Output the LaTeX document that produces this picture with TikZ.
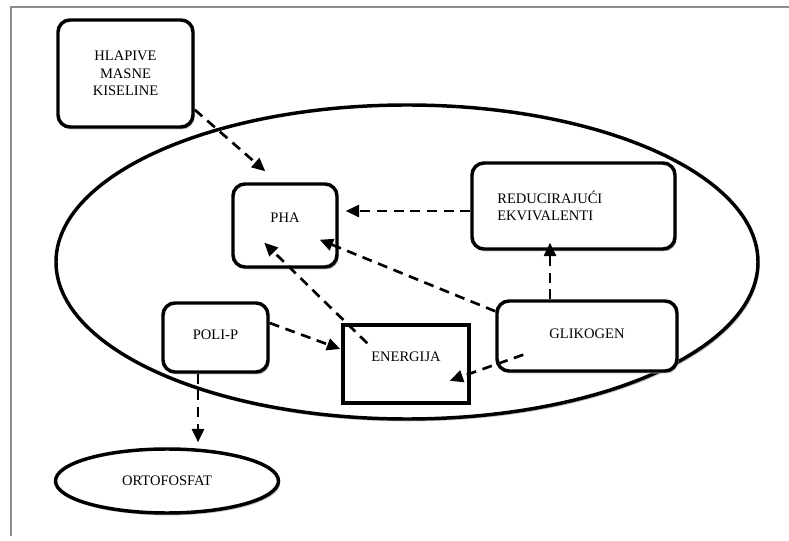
\documentclass[tikz,border=0pt]{standalone}
\usepackage{fontspec}
\setmainfont{Liberation Serif}
\usetikzlibrary{shapes.geometric,arrows.meta,calc,shadows}
\begin{document}
\begin{tikzpicture}[x=0.75pt,y=-0.75pt,
    every node/.style={font=\fontsize{10.9}{13.2}\selectfont},
    box/.style={shape=rectangle,draw=black,line width=2.6pt,fill=white,inner sep=0pt,
      drop shadow={shadow xshift=1.2pt,shadow yshift=-1.8pt,fill=black!25,opacity=1}},
    flow/.style={line width=2pt,dash pattern=on 7.5pt off 5pt,-{Triangle[length=10pt,width=9pt]}}]
    \useasboundingbox (0,0) rectangle (789,541);
    \draw[black!45,line width=1pt] (11,536) -- (11,7) -- (789,7);

    \node[box,shape=ellipse,minimum width=526.5pt,minimum height=235.5pt] (cell) at (407,262) {};

    \node[box,rounded corners=9pt,minimum width=101.25pt,minimum height=80.25pt,align=center] (hlapive) at (125.5,73.5) {HLAPIVE\\MASNE\\KISELINE};
    \node[box,rounded corners=9pt,minimum width=78pt,minimum height=62.25pt,text depth=12pt] (pha) at (285,225.5) {PHA};
    \node[box,rounded corners=9pt,minimum width=152.25pt,minimum height=64.5pt,inner xsep=19pt,text width=114.25pt,align=left] (redu) at (573.5,206) {REDUCIRAJUĆI\\EKVIVALENTI};
    \node[box,rounded corners=9pt,minimum width=78.75pt,minimum height=51.75pt,text depth=4pt] (polip) at (215.5,337.5) {POLI-P};
    \node[box,minimum width=94.5pt,minimum height=58.5pt,text depth=11pt] (energija) at (406,364) {ENERGIJA};
    \node[box,rounded corners=9pt,minimum width=135pt,minimum height=52.5pt,text depth=4pt] (glikogen) at (587,336) {GLIKOGEN};
    \node[box,shape=ellipse,minimum width=167.25pt,minimum height=48pt] (ortofosfat) at (167,481) {ORTOFOSFAT};

    \draw[flow] ($(hlapive.south east)+(0,-19)$) -- ($(pha.north west)+(34,-11)$);
    \draw[flow] ($(redu.west)+(0,5)$) -- ($(pha.east)+(7,-14.5)$);
    \draw[flow] ($(glikogen.north)+(-37,0)$) -- ($(redu.south)+(-23.5,-8)$);
    \draw[flow] ($(glikogen.north west)+(0,12)$) -- ($(pha.south east)+(-19,-29)$);
    \draw[flow] ($(energija.north west)+(26,20)$) -- ($(pha.south west)+(33,-26)$);
    \draw[flow] ($(glikogen.south west)+(28,-18)$) -- ($(energija.south east)+(-21,-24)$);
    \draw[flow] ($(polip.east)+(0,-14.5)$) -- ($(energija.west)+(-1,-15)$);
    \draw[flow] ($(polip.south)+(-17.5,0)$) -- ($(ortofosfat.north)+(31,-5)$);
\end{tikzpicture}
\end{document}
